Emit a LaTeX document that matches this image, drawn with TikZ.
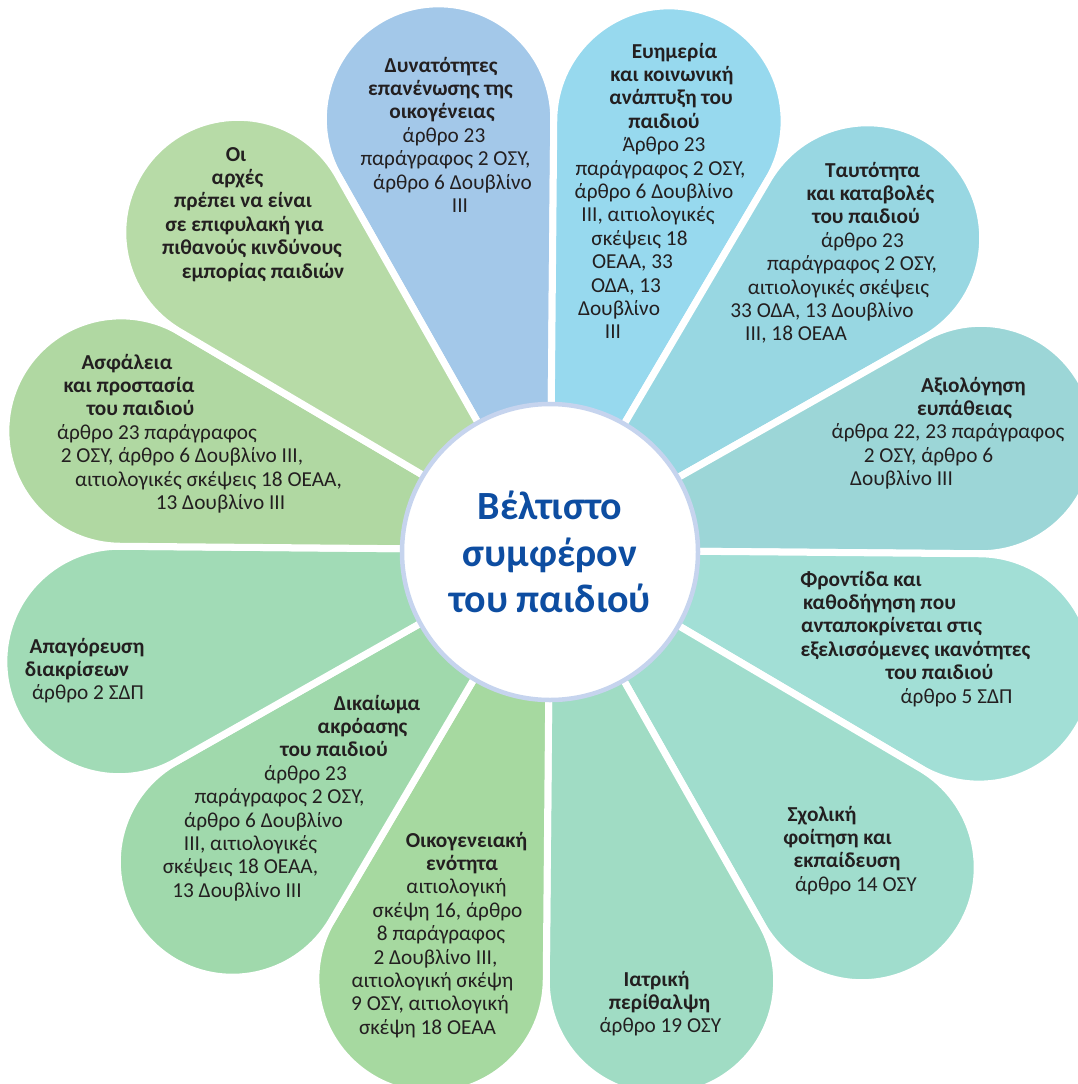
\documentclass[tikz,border=0pt]{standalone}
\usepackage{fontspec}
\setmainfont{Carlito}
\definecolor{txtc}{HTML}{231F20}
\definecolor{hubtxt}{HTML}{0D4DA1}
\definecolor{ringc}{HTML}{C6D4EE}
\definecolor{cDyn}{HTML}{A3C8E9}
\definecolor{cEvi}{HTML}{97D9EE}
\definecolor{cTau}{HTML}{98D7E2}
\definecolor{cAxi}{HTML}{9CD6D7}
\definecolor{cFro}{HTML}{A2DFD6}
\definecolor{cSxo}{HTML}{A0DDCD}
\definecolor{cIat}{HTML}{A0DCC4}
\definecolor{cOik}{HTML}{A6D9A0}
\definecolor{cDik}{HTML}{A0D9AC}
\definecolor{cApa}{HTML}{A1DBB6}
\definecolor{cAsf}{HTML}{B0D8A2}
\definecolor{cArx}{HTML}{B7DBA7}

% one line of petal text: centre x / text, baselines spaced evenly
\newcommand\petaltext[3]{%
  \foreach \cx/\txt [count=\k] in {#3}
    \node[ln] (#1-\k) at (\cx, {#2+(\k-1)*23.4}) {\txt};
}

\begin{document}
\begin{tikzpicture}[x=1pt, y=-1pt,
  petal/.style={draw=white, line width=7pt, line join=round},
  ln/.style={anchor=base, inner sep=0pt, text=txtc,
             font=\fontsize{21.3}{23.4}\selectfont},
  hubstyle/.style={circle, fill=white, draw=ringc, line width=4.5pt,
             minimum size=296pt, inner sep=0pt, align=center, text=hubtxt,
             font=\fontsize{40}{46.5}\selectfont\bfseries}]
\useasboundingbox (0,0) rectangle (1078,1084);
\clip (0,0) rectangle (1078,1084);
\fill[white] (0,0) rectangle (1078,1084);

% twelve petals, each a 30 degree wedge closed by a round cap
\foreach \ang/\col in {105/cDyn, 75/cEvi, 45/cTau, 15/cAxi, -15/cFro,
    -45/cSxo, -75/cIat, -105/cOik, -135/cDik, -165/cApa, 165/cAsf, 135/cArx}
  \path[petal, fill=\col, shift={(550,550)}, rotate=\ang-0.5]
    (0,0) -- (-15:430) arc[start angle=-105, end angle=105, radius=115.2] -- cycle;

% centre disc
\node[hubstyle] (hub) at (550,552) {Βέλτιστο\\συμφέρον\\του παιδιού};

% petal texts
\petaltext{dyn}{72}{441/{\bfseries Δυνατότητες}, 440.5/{\bfseries επανένωσης της},
  442/{\bfseries οικογένειας}, 444/{άρθρο 23}, 445.5/{παράγραφος 2 ΟΣΥ,},
  452.5/{άρθρο 6 Δουβλίνο}, 460/{III}}

\petaltext{evi}{58}{674.5/{\bfseries Ευημερία}, 672/{\bfseries και κοινωνική},
  671/{\bfseries ανάπτυξη του}, 664/{\bfseries παιδιού}, 664/{Άρθρο 23},
  660.5/{παράγραφος 2 ΟΣΥ,}, 654/{άρθρο 6 Δουβλίνο}, 648/{III, αιτιολογικές},
  639.5/{σκέψεις 18}, 632.5/{ΟΕΑΑ, 33}, 626/{ΟΔΑ, 13}, 619/{Δουβλίνο}, 613/{III}}

\petaltext{tau}{177}{872.5/{\bfseries Ταυτότητα}, 870.5/{\bfseries και καταβολές},
  866/{\bfseries του παιδιού}, 862.5/{άρθρο 23}, 852/{παράγραφος 2 ΟΣΥ,},
  838.5/{αιτιολογικές σκέψεις}, 822/{33 ΟΔΑ, 13 Δουβλίνο}, 796/{III, 18 ΟΕΑΑ}}

\petaltext{axi}{392}{973.5/{\bfseries Αξιολόγηση}, 964.5/{\bfseries ευπάθειας},
  948/{άρθρα 22, 23 παράγραφος}, 928.5/{2 ΟΣΥ, άρθρο 6}, 901.5/{Δουβλίνο III}}

\petaltext{fro}{586}{861/{\bfseries Φροντίδα και}, 879.5/{\bfseries καθοδήγηση που},
  891.5/{\bfseries ανταποκρίνεται στις}, 915.5/{\bfseries εξελισσόμενες ικανότητες},
  939.5/{\bfseries του παιδιού}, 956.5/{άρθρο 5 ΣΔΠ}}

\petaltext{sxo}{821}{822/{\bfseries Σχολική}, 837.5/{\bfseries φοίτηση και},
  847/{\bfseries εκπαίδευση}, 856/{άρθρο 14 ΟΣΥ}}

\petaltext{iat}{986}{656.5/{\bfseries Ιατρική}, 659.5/{\bfseries περίθαλψη},
  660.5/{άρθρο 19 ΟΣΥ}}

\petaltext{oik}{847}{466.5/{\bfseries Οικογενειακή}, 462/{\bfseries ενότητα},
  456.5/{αιτιολογική}, 447.5/{σκέψη 16, άρθρο}, 441/{8 παράγραφος},
  435.5/{2 Δουβλίνο III,}, 432.5/{αιτιολογική σκέψη}, 430/{9 ΟΣΥ, αιτιολογική},
  427.5/{σκέψη 18 ΟΕΑΑ}}

\petaltext{dik}{710}{377/{\bfseries Δικαίωμα}, 362.5/{\bfseries ακρόασης},
  334/{\bfseries του παιδιού}, 305.5/{άρθρο 23}, 279.5/{παράγραφος 2 ΟΣΥ,},
  263.5/{άρθρο 6 Δουβλίνο}, 250.5/{III, αιτιολογικές}, 240.5/{σκέψεις 18 ΟΕΑΑ,},
  237/{13 Δουβλίνο III}}

\petaltext{apa}{653}{87/{\bfseries Απαγόρευση}, 77/{\bfseries διακρίσεων},
  88/{άρθρο 2 ΣΔΠ}}

\petaltext{asf}{369}{127/{\bfseries Ασφάλεια}, 129/{\bfseries και προστασία},
  140.5/{\bfseries του παιδιού}, 157/{άρθρο 23 παράγραφος},
  182/{2 ΟΣΥ, άρθρο 6 Δουβλίνο III,}, 208.5/{αιτιολογικές σκέψεις 18 ΟΕΑΑ,},
  220.5/{13 Δουβλίνο III}}

\petaltext{arx}{161}{236/{\bfseries Οι}, 237.5/{\bfseries αρχές},
  243/{\bfseries πρέπει να είναι}, 244.5/{\bfseries σε επιφυλακή για},
  252/{\bfseries πιθανούς κινδύνους}, 263/{\bfseries εμπορίας παιδιών}}
\end{tikzpicture}
\end{document}
